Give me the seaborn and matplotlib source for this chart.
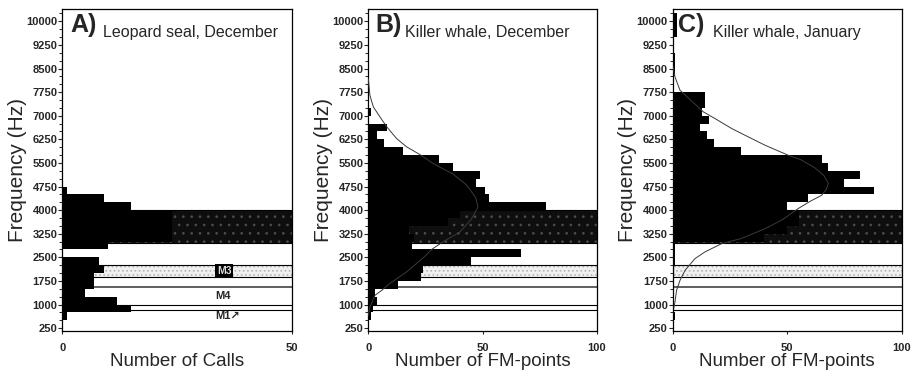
import matplotlib
matplotlib.use('Agg')
import matplotlib.pyplot as plt
import seaborn as sns
from matplotlib.ticker import FixedLocator, MultipleLocator

sns.set_style('white')
plt.rcParams['font.family'] = ['Liberation Sans', 'DejaVu Sans']
plt.rcParams['hatch.linewidth'] = 0.7

# lower edge of each 250 Hz frequency bin
freq_bins = [250, 500, 750, 1000, 1250, 1500, 1750, 2000, 2250, 2500,
             2750, 3000, 3250, 3500, 3750, 4000, 4250, 4500, 4750, 5000,
             5250, 5500, 5750, 6000, 6250, 6500, 6750, 7000, 7250, 7500,
             7750, 8000, 8250, 8500, 8750, 9000, 9250, 9500, 9750, 10000]

# counts per bin
calls_leopard_dec = [0, 1, 15, 12, 5, 7, 7, 9, 8, 0,
                     10, 24, 24, 24, 24, 15, 9, 1, 0, 0,
                     0, 0, 0, 0, 0, 0, 0, 0, 0, 0,
                     0, 0, 0, 0, 0, 0, 0, 0, 0, 0]
fm_killer_dec = [0, 1, 2, 4, 3, 13, 23, 24, 45, 67,
                 19, 20, 18, 35, 40, 78, 53, 51, 47, 49,
                 37, 31, 15, 7, 4, 8, 0, 1, 0, 0,
                 0, 0, 0, 0, 0, 0, 0, 0, 0, 0]
fm_killer_jan = [0, 1, 0, 0, 0, 0, 0, 0, 1, 1,
                 1, 40, 50, 55, 55, 50, 59, 88, 75, 82,
                 68, 65, 30, 18, 15, 12, 16, 13, 14, 14,
                 0, 0, 1, 1, 1, 0, 0, 2, 2, 2]

# fitted curves (traced points)
curve_dec_hz = [660, 926, 1294, 1453, 1650, 1850, 2050, 2300, 2550, 2750,
                3000, 3300, 3700, 4100, 4400, 4800, 5150, 5300, 5500, 5765,
                6010, 6273, 6645, 6963, 7280, 7650, 8180]
curve_dec_n = [0, 0.7, 2.9, 5.9, 9, 13, 17, 21, 25, 27.7,
               32.8, 40, 45, 48, 47, 43, 37, 33, 28, 22.6,
               16.8, 12.4, 8.1, 5.1, 2.2, 0.7, 0]
curve_jan_hz = [900, 1084, 1453, 1771, 2088, 2460, 2673, 2937, 3100, 3400,
                3700, 4050, 4280, 4470, 4650, 4850, 5100, 5350, 5600, 5743,
                6063, 6328, 6591, 6909, 7122, 7808, 8234, 8603]
curve_jan_n = [0.5, 1.0, 1.7, 3.2, 5.4, 9.7, 14.1, 21.4, 30, 40,
               48, 54.8, 60, 65, 67, 68, 66, 62, 56, 50.5,
               40.3, 33.0, 25.8, 18.5, 13.4, 3.2, 1.0, 0]

ytick_hz = [250, 1000, 1750, 2500, 3250, 4000, 4750, 5500, 6250, 7000,
            7750, 8500, 9250, 10000]

bin_edges = freq_bins + [freq_bins[-1] + 250]
bin_centers = [f + 125 for f in freq_bins]

fig = plt.figure(figsize=(9.11, 3.7), dpi=100)


def draw_panel(rect, counts, xmax, xticks, xlabel, letter, title, letter_x, title_x,
               curve_n=None, curve_hz=None, call_labels=False):
    ax = fig.add_axes(rect)

    # call type bands
    ax.axhspan(2950, 4000, facecolor='#0e0e0e', edgecolor='#4c4c4c', hatch='..', lw=0, zorder=0.2)
    ax.axhspan(1870, 2270, facecolor='#f0f0f0', edgecolor='#b4b4b4', hatch='....', lw=0, zorder=0.2)
    ax.axhspan(2950, 4000, fill=False, edgecolor='black', lw=0.8, zorder=0.3)
    ax.axhspan(1870, 2270, fill=False, edgecolor='black', lw=0.8, zorder=0.3)
    ax.axhspan(840, 975, fill=False, edgecolor='black', lw=0.8, zorder=0.3)
    ax.axhline(1570, color='#333333', lw=1.1, zorder=0.3)

    sns.histplot(y=bin_centers, weights=counts, bins=bin_edges, element='step', fill=True,
                 color='black', alpha=1, linewidth=0, ax=ax, zorder=1)

    if curve_n is not None:
        sns.lineplot(x=curve_n, y=curve_hz, sort=False, orient='y', estimator=None,
                     color='#3a3a3a', lw=0.7, ax=ax, zorder=3)

    if call_labels:
        ax.text(35.3, 2075, 'M3', fontsize=7.5, fontweight='bold', ha='center', va='center',
                color='#dddddd', zorder=4,
                bbox=dict(boxstyle='square,pad=0.15', facecolor='black', edgecolor='none'))
        ax.text(35.1, 1270, 'M4', fontsize=8, fontweight='bold', ha='center', va='center', zorder=4)
        ax.text(36, 650, 'M1\u2197', fontsize=8, fontweight='bold', ha='center', va='center', zorder=4)

    ax.set_xlim(0, xmax)
    ax.set_ylim(170, 10380)
    ax.yaxis.set_major_locator(FixedLocator(ytick_hz))
    ax.yaxis.set_minor_locator(MultipleLocator(250))
    ax.set_xticks(xticks)
    ax.tick_params(axis='y', which='major', left=True, direction='out', length=3, width=0.8,
                   pad=0.5, labelsize=8)
    ax.tick_params(axis='y', which='minor', left=True, direction='out', length=2, width=0.7)
    ax.tick_params(axis='x', which='major', bottom=True, direction='out', length=2, width=0.8,
                   pad=7, labelsize=8)
    for lab in ax.get_yticklabels() + ax.get_xticklabels():
        lab.set_fontweight('bold')
    for sp in ax.spines.values():
        sp.set_color('black')
        sp.set_linewidth(0.9)

    ax.set_ylabel('Frequency (Hz)', fontsize=15)
    ax.yaxis.set_label_coords(-0.156, 0.5)
    ax.set_xlabel(xlabel, fontsize=13.5, va='top')
    ax.xaxis.set_label_coords(0.5, -0.07)

    ax.text(letter_x, 0.930, letter, transform=ax.transAxes, fontsize=18, fontweight='bold',
            va='baseline', ha='left')
    ax.text(title_x, 0.913, title, transform=ax.transAxes, fontsize=11.5,
            va='baseline', ha='left')
    return ax


draw_panel([0.0684, 0.1062, 0.2518, 0.8686], calls_leopard_dec, 50, [0, 50],
           'Number of Calls', 'A)', 'Leopard seal, December', 0.034, 0.177,
           call_labels=True)
draw_panel([0.4043, 0.1062, 0.2507, 0.8686], fm_killer_dec, 100, [0, 50, 100],
           'Number of FM-points', 'B)', 'Killer whale, December', 0.029, 0.161,
           curve_n=curve_dec_n, curve_hz=curve_dec_hz)
draw_panel([0.7384, 0.1062, 0.2514, 0.8686], fm_killer_jan, 100, [0, 50, 100],
           'Number of FM-points', 'C)', 'Killer whale, January', 0.023, 0.177,
           curve_n=curve_jan_n, curve_hz=curve_jan_hz)

fig.savefig('out.png', dpi=100)
